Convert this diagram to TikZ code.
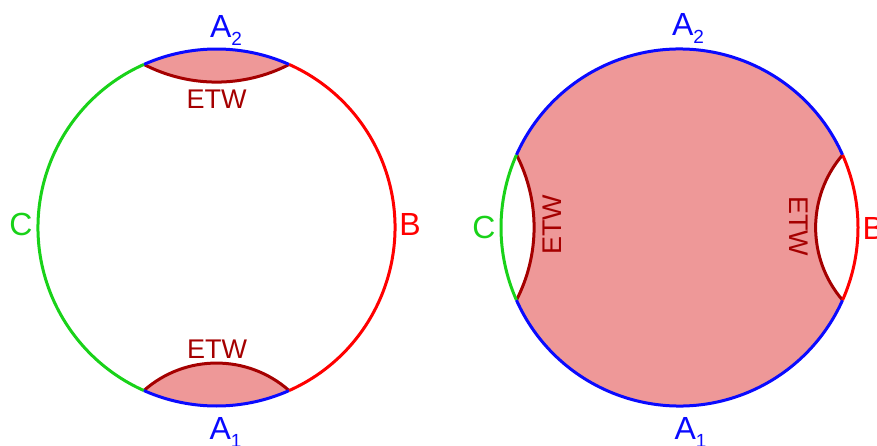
\documentclass[tikz,border=0pt]{standalone}
\usepackage{fontspec}
\setmainfont{Liberation Sans}
\definecolor{cblue}{RGB}{10,10,255}
\definecolor{cred}{RGB}{255,0,0}
\definecolor{cgreen}{RGB}{25,210,25}
\definecolor{etwc}{RGB}{165,0,0}
\definecolor{etwf}{RGB}{238,152,152}
\newcommand\subs[1]{\raisebox{-8pt}{\fontsize{19}{19}\selectfont #1}}
\begin{document}
\begin{tikzpicture}[x=1pt,y=1pt,line width=3pt,
  lab/.style={inner sep=0pt,font=\fontsize{32}{32}\selectfont},
  etwlab/.style={inner sep=0pt,text=etwc,font=\fontsize{27}{27}\selectfont},
  etwline/.style={draw=etwc},
  etwfill/.style={fill=etwf}]
\useasboundingbox (0,0) rectangle (877,445);
\clip (0,0) rectangle (877,445);
\coordinate (L) at (216.5,217.5);
\coordinate (R) at (679.5,217.5);
\coordinate (Lt1) at ([shift={(66:178.5)}]L);
\coordinate (Lt2) at ([shift={(114:178.5)}]L);
\coordinate (Lb1) at ([shift={(246:178.5)}]L);
\coordinate (Lb2) at ([shift={(294:178.5)}]L);
\coordinate (Rt1) at ([shift={(24:178.5)}]R);
\coordinate (Rt2) at ([shift={(156:178.5)}]R);
\coordinate (Rb1) at ([shift={(204:178.5)}]R);
\coordinate (Rb2) at ([shift={(336:178.5)}]R);
% left fills
\fill[etwfill] (Lt1) arc[start angle=66,end angle=114,radius=178.5]
  arc[start angle=242.7,end angle=297.3,radius=158.5] -- cycle;
\fill[etwfill] (Lb1) arc[start angle=246,end angle=294,radius=178.5]
  arc[start angle=48.5,end angle=131.5,radius=109.6] -- cycle;
% right fill
\fill[etwfill] (Rt2) arc[start angle=156,end angle=24,radius=178.5]
  arc[start angle=139.3,end angle=220.7,radius=111.4]
  arc[start angle=-24,end angle=-156,radius=178.5]
  arc[start angle=-27.3,end angle=27.3,radius=158.5] -- cycle;
% ETW lines
\draw[etwline] (Lt2) arc[start angle=242.7,end angle=297.3,radius=158.5];
\draw[etwline] (Lb2) arc[start angle=48.5,end angle=131.5,radius=109.6];
\draw[etwline] (Rt1) arc[start angle=139.3,end angle=220.7,radius=111.4];
\draw[etwline] (Rb1) arc[start angle=-27.3,end angle=27.3,radius=158.5];
% left circle
\draw[cblue] (Lt1) arc[start angle=66,end angle=114,radius=178.5];
\draw[cgreen] (Lt2) arc[start angle=114,end angle=246,radius=178.5];
\draw[cblue] (Lb1) arc[start angle=246,end angle=294,radius=178.5];
\draw[cred] (Lb2) arc[start angle=-66,end angle=66,radius=178.5];
% right circle
\draw[cblue] (Rt1) arc[start angle=24,end angle=156,radius=178.5];
\draw[cgreen] (Rt2) arc[start angle=156,end angle=204,radius=178.5];
\draw[cblue] (Rb1) arc[start angle=204,end angle=336,radius=178.5];
\draw[cred] (Rb2) arc[start angle=-24,end angle=24,radius=178.5];
% labels left
\node[lab,text=cblue,anchor=base west] (lA2) at (208.5,407) {A\subs{2}};
\node[lab,text=cblue,anchor=base west] (lA1) at (208,6) {A\subs{1}};
\node[lab,text=cgreen,anchor=base] (lC) at (21,210) {C};
\node[lab,text=cred,anchor=base] (lB) at (410,210) {B};
\node[etwlab,anchor=base] (lE1) at (216.5,336.5) {ETW};
\node[etwlab,anchor=base] (lE2) at (217,87) {ETW};
% labels right
\node[lab,text=cblue,anchor=base west] (rA2) at (670.5,409) {A\subs{2}};
\node[lab,text=cblue,anchor=base west] (rA1) at (673,6) {A\subs{1}};
\node[lab,text=cgreen,anchor=base] (rC) at (484,207) {C};
\node[lab,text=cred,anchor=base west] (rB) at (861,206) {B};
\node[etwlab,rotate=90] (rE1) at (552,220) {ETW};
\node[etwlab,rotate=-90] (rE2) at (799,219) {ETW};
\end{tikzpicture}
\end{document}
